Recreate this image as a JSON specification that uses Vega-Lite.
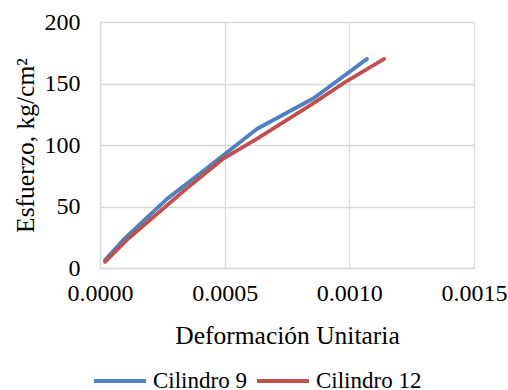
{
  "$schema": "https://vega.github.io/schema/vega-lite/v6.json",
  "width": 374,
  "height": 246,
  "autosize": "none",
  "padding": {"left": 100, "top": 22, "right": 34, "bottom": 122},
  "background": "white",
  "config": {
    "view": {"stroke": null},
    "font": "Liberation Serif, Times New Roman, serif",
    "axis": {
      "labelFont": "Liberation Serif, Times New Roman, serif",
      "titleFont": "Liberation Serif, Times New Roman, serif",
      "labelFontSize": 24,
      "titleFontSize": 25.5,
      "labelColor": "#000000",
      "titleColor": "#000000",
      "titleFontWeight": "normal",
      "gridColor": "#d9d9d9",
      "gridWidth": 1.3,
      "domainColor": "#d9d9d9",
      "domainWidth": 1.3,
      "ticks": false,
      "labelFlush": false,
      "labelOverlap": false
    }
  },
  "data": {
    "values": [
      {"x": 0.00002, "y": 6.5, "s": "Cilindro 9"},
      {"x": 0.000094, "y": 23, "s": "Cilindro 9"},
      {"x": 0.000268, "y": 56, "s": "Cilindro 9"},
      {"x": 0.000422, "y": 80, "s": "Cilindro 9"},
      {"x": 0.000629, "y": 113, "s": "Cilindro 9"},
      {"x": 0.000857, "y": 138, "s": "Cilindro 9"},
      {"x": 0.001071, "y": 170, "s": "Cilindro 9"},
      {"x": 0.00002, "y": 5, "s": "Cilindro 12"},
      {"x": 0.000114, "y": 24, "s": "Cilindro 12"},
      {"x": 0.000341, "y": 63.5, "s": "Cilindro 12"},
      {"x": 0.000495, "y": 89, "s": "Cilindro 12"},
      {"x": 0.000629, "y": 105, "s": "Cilindro 12"},
      {"x": 0.000857, "y": 134, "s": "Cilindro 12"},
      {"x": 0.00099, "y": 152, "s": "Cilindro 12"},
      {"x": 0.00114, "y": 170, "s": "Cilindro 12"}
    ]
  },
  "mark": {"type": "line", "strokeWidth": 3.8, "strokeCap": "round", "strokeJoin": "round"},
  "encoding": {
    "x": {
      "field": "x", "type": "quantitative",
      "scale": {"domain": [0, 0.0015], "nice": false},
      "axis": {"values": [0, 0.0005, 0.001, 0.0015], "format": ".4f", "title": "Deformación Unitaria", "labelPadding": 13, "titlePadding": 18}
    },
    "y": {
      "field": "y", "type": "quantitative",
      "scale": {"domain": [0, 200], "nice": false},
      "axis": {"values": [0, 50, 100, 150, 200], "title": "Esfuerzo, kg/cm²", "labelPadding": 20, "titlePadding": 6}
    },
    "color": {
      "field": "s", "type": "nominal",
      "sort": ["Cilindro 9", "Cilindro 12"],
      "scale": {"domain": ["Cilindro 9", "Cilindro 12"], "range": ["#4F81BD", "#C0504D"]},
      "legend": {
        "title": null,
        "orient": "none",
        "direction": "horizontal",
        "legendX": -8,
        "legendY": 331,
        "symbolType": "stroke",
        "symbolSize": 2704,
        "symbolStrokeWidth": 4,
        "labelFont": "Liberation Serif, Times New Roman, serif",
        "labelFontSize": 23,
        "labelColor": "#000000",
        "labelOffset": 5,
        "columnPadding": 2
      }
    }
  }
}
